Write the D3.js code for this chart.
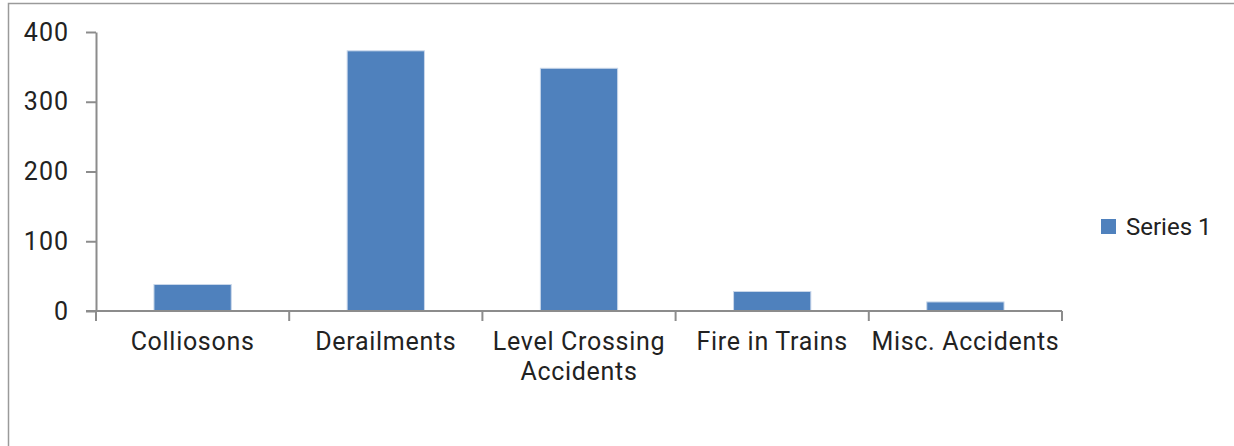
<!DOCTYPE html>
<html>
<head>
<meta charset="utf-8">
<script src="https://cdn.jsdelivr.net/npm/d3@7"></script>
<style>
  body { margin: 0; background: #fff; }
  text { font-family: Roboto, sans-serif; fill: #222; }
</style>
</head>
<body>
<script>
var width = 1234;
var height = 446;
var margin = {top: 32, left: 96, right: 172, bottom: 135};

var categories = ['Colliosons', 'Derailments', 'Level Crossing Accidents', 'Fire in Trains', 'Misc. Accidents'];
var values = [38, 373, 348, 28, 13];
var yTicks = [0, 100, 200, 300, 400];
var seriesName = 'Series 1';

var barColor = '#4f81bd';
var axisColor = '#8c8c8c';

var svg = d3.select('body')
  .append('svg')
  .attr('width', width)
  .attr('height', height);

// frame
svg.append('path')
  .attr('d', 'M8.5 ' + height + ' V3.5 H' + width)
  .style('fill', 'none')
  .style('stroke', '#9a9a9a')
  .style('stroke-width', 1.5);

var x = d3.scaleBand()
  .domain(categories)
  .range([margin.left, 1062])
  .padding(0);

var y = d3.scaleLinear()
  .domain([0, 400])
  .range([311, margin.top]);

// bars
svg.selectAll('rect.bar')
  .data(values)
  .enter()
  .append('rect')
  .attr('class', 'bar')
  .attr('x', function (d, i) { return x(categories[i]) + x.bandwidth() * 0.3; })
  .attr('width', x.bandwidth() * 0.4)
  .attr('y', function (d) { return y(d); })
  .attr('height', function (d) { return y(0) - y(d); })
  .style('fill', barColor)
  .style('stroke', '#c9d7ea')
  .style('stroke-width', 1);

// y axis
var yAxis = svg.append('g')
  .attr('transform', 'translate(' + margin.left + ',0)')
  .call(d3.axisLeft(y).tickValues(yTicks).tickSize(10).tickSizeOuter(0).tickPadding(17));

yAxis.selectAll('text')
  .style('font-size', '25px')
  .style('letter-spacing', '1px')
  .style('font-family', 'Roboto, sans-serif')
  .style('fill', '#222');

// x axis: labels centred in the bands
var xAxis = svg.append('g')
  .attr('transform', 'translate(0,' + y(0) + ')')
  .call(d3.axisBottom(x).tickSize(0).tickSizeOuter(0).tickPadding(21));

xAxis.selectAll('text')
  .style('font-size', '25px')
  .style('letter-spacing', '0.7px')
  .style('font-family', 'Roboto, sans-serif')
  .style('fill', '#222')
  .call(wrap, x.bandwidth() - 4);

// boundary ticks between categories
var bounds = categories.map(function (c) { return x(c); }).concat([x.range()[1]]);
xAxis.selectAll('line.bound')
  .data(bounds)
  .enter()
  .append('line')
  .attr('class', 'bound')
  .attr('x1', function (d) { return d; })
  .attr('x2', function (d) { return d; })
  .attr('y1', 0)
  .attr('y2', 10);

// extend x axis line left to meet the y ticks
xAxis.select('.domain')
  .attr('d', 'M' + (margin.left - 10) + ',0H' + x.range()[1]);

svg.selectAll('.domain, .tick line, line.bound')
  .style('stroke', axisColor)
  .style('stroke-width', 2);

// legend
var legend = svg.append('g')
  .attr('transform', 'translate(1101,219)');

legend.append('rect')
  .attr('width', 15)
  .attr('height', 15)
  .style('fill', barColor);

legend.append('text')
  .attr('x', 25)
  .attr('y', 15.5)
  .style('font-size', '24px')
  .text(seriesName);

function wrap(texts, w) {
  texts.each(function () {
    var text = d3.select(this);
    var words = text.text().split(/\s+/);
    var yy = text.attr('y');
    var dy = parseFloat(text.attr('dy'));
    var line = [];
    var lineNo = 0;
    var tspan = text.text(null).append('tspan').attr('x', 0).attr('y', yy).attr('dy', dy + 'em');
    words.forEach(function (word) {
      line.push(word);
      tspan.text(line.join(' '));
      if (tspan.node().getComputedTextLength() > w && line.length > 1) {
        line.pop();
        tspan.text(line.join(' '));
        line = [word];
        lineNo++;
        tspan = text.append('tspan').attr('x', 0).attr('y', yy)
          .attr('dy', (dy + lineNo * 1.2) + 'em').text(word);
      }
    });
  });
}
</script>
</body>
</html>
